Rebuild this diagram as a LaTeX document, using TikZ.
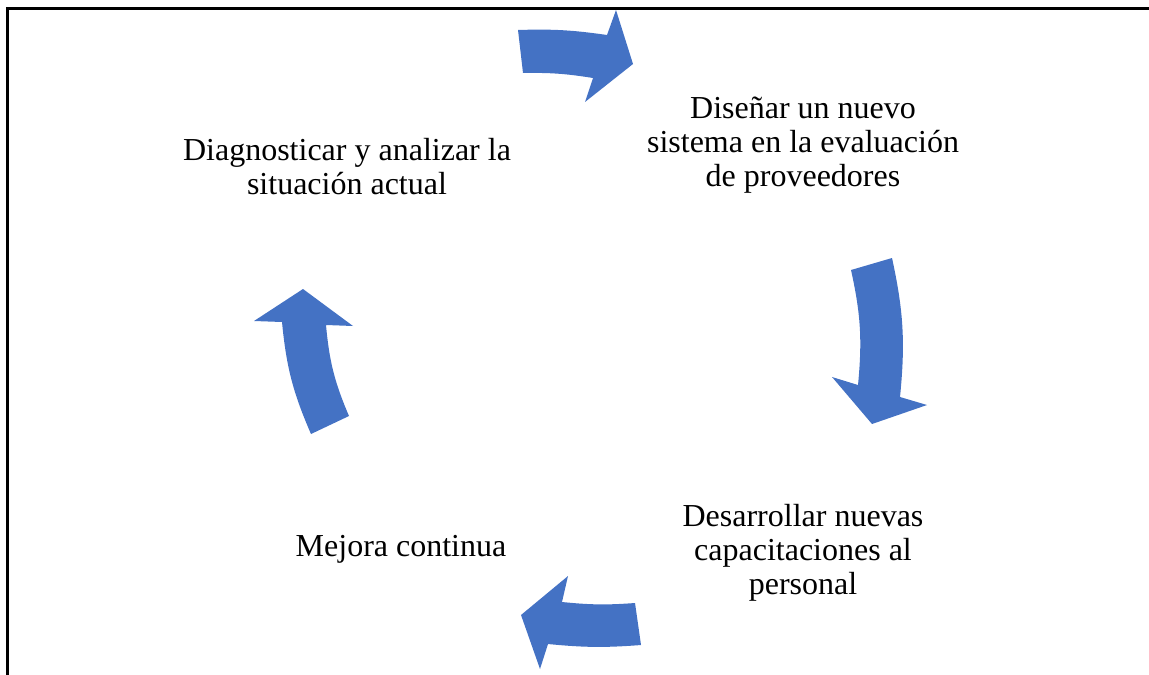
\documentclass[tikz,border=0pt]{standalone}
\usepackage{fontspec}
\setmainfont{Liberation Serif}
\usepackage{xcolor}
\definecolor{cycleblue}{RGB}{68,114,196}
\usepackage{tikz}
\tikzset{
    px/.style={x=0.5pt, y=-0.5pt},
    phase/.style={align=center, inner sep=0pt, font=\fontsize{16}{17}\selectfont},
    cyclearrow/.style={fill=cycleblue},
    frame/.style={line width=1.2pt, line cap=rect}
}

\begin{document}
\begin{tikzpicture}[px]

      % tail outer, neck outer, head outer, tip, head inner, neck inner, tail inner, bend
      \newcommand\cyclearrow[8]{
        \fill[cyclearrow]
          #1 to[bend left=#8] #2
          -- #3 -- #4 -- #5 -- #6
          to[bend right=#8] #7 -- cycle;
      }

      \useasboundingbox (0,0) rectangle (1149,674);

      \coordinate (frame-nw) at (7.5,8.5);
      \draw[frame] (frame-nw -| 1149,0) -- (frame-nw) -- (frame-nw |- 0,674);

      \path
          (803,145) node[phase] (design) {Diseñar un nuevo\\sistema en la evaluación\\de proveedores}
          (347,167) node[phase] (diagnosis) {Diagnosticar y analizar la\\situación actual}
          (803,553) node[phase] (training) {Desarrollar nuevas\\capacitaciones al\\personal}
          (401,549) node[phase] (improvement) {Mejora continua};

      \cyclearrow{(518,30)}{(607,35)}{(616,10)}{(633,64)}{(585,102)}{(593,78)}{(523,73)}{5};
      \cyclearrow{(892,258)}{(900,397)}{(927,405)}{(872,424)}{(832,377)}{(858,385)}{(851,270)}{9};
      \cyclearrow{(641,645)}{(548,644)}{(540,669)}{(521,615)}{(568,576)}{(562,602)}{(635,603)}{5};
      \cyclearrow{(311,434)}{(282,322)}{(254,321)}{(303,289)}{(353,326)}{(326,325)}{(349,416)}{9};
    \end{tikzpicture}
\end{document}
